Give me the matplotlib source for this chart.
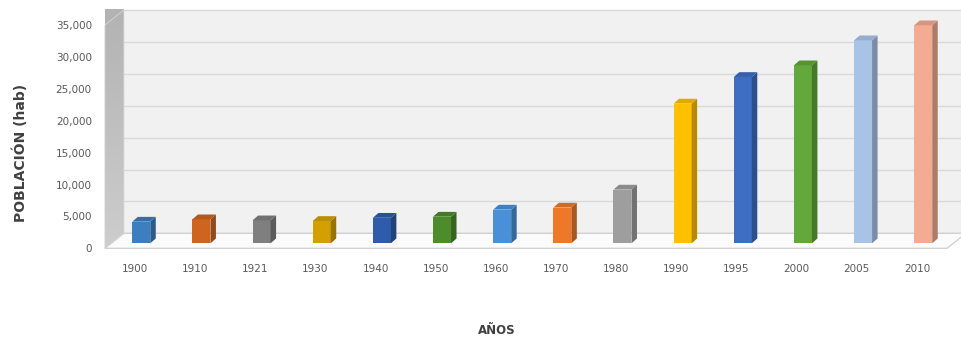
import matplotlib
matplotlib.use("Agg")
import matplotlib.pyplot as plt
from matplotlib.patches import Polygon, Rectangle
from matplotlib.transforms import Affine2D
import matplotlib.colors as mcolors
import numpy as np

# ---- data -------------------------------------------------------------
years = ["1900", "1910", "1921", "1930", "1940", "1950", "1960",
         "1970", "1980", "1990", "1995", "2000", "2005", "2010"]
population = [3390, 3760, 3600, 3500, 4000, 4170, 5280,
              5600, 8420, 21900, 26070, 27900, 31820, 34170]
bar_colors = ["#3d7ebf", "#cd6520", "#7f7f7f", "#d4a000", "#2f5caa",
              "#4c8c2b", "#4a90d9", "#ee7828", "#9e9e9e", "#ffc000",
              "#3d6ec4", "#62a83a", "#a9c3e6", "#f3ab92"]
y_ticks = [0, 5000, 10000, 15000, 20000, 25000, 30000, 35000]
y_tick_labels = ["0", "5,000", "10,000", "15,000", "20,000",
                 "25,000", "30,000", "35,000"]

# ---- figure / projection geometry (pixels) ----------------------------
W, H, DPI = 961, 341, 100
fig = plt.figure(figsize=(W / DPI, H / DPI), dpi=DPI)
fig.patch.set_facecolor("white")

L, B, AW, AH = 111.2, 97.7, 842.1, 223.3      # plane of the bar fronts
FRONT = (-6.3, -5.0)                          # front edge of floor / labels
BACK = (12.7, 10.0)                           # back wall
BAR_DEPTH = (5.5, 4.8)                        # visible depth of each column

n = len(years)
ymax = y_ticks[-1]
text_color = "#595959"

# axes holding the tick labels (front plane)
axf = fig.add_axes([(L + FRONT[0]) / W, (B + FRONT[1]) / H, AW / W, AH / H])
axf.set_xlim(-0.5, n - 0.5)
axf.set_ylim(0, ymax)
axf.patch.set_visible(False)
for s in axf.spines.values():
    s.set_visible(False)
axf.set_xticks(np.arange(n))
axf.set_xticklabels(years)
axf.set_yticks(y_ticks)
axf.set_yticklabels(y_tick_labels)
axf.tick_params(axis="x", length=0, pad=11.0, labelsize=7.5, colors=text_color)
axf.tick_params(axis="y", length=0, pad=9.4, labelsize=7.5, colors=text_color)

# main axes: bars live here
ax = fig.add_axes([L / W, B / H, AW / W, AH / H])
ax.set_xlim(-0.5, n - 0.5)
ax.set_ylim(0, ymax)
ax.axis("off")


def shifted(dx, dy):
    return ax.transData + Affine2D().translate(dx, dy)


def px2data(dx, dy):
    return dx * n / AW, dy * ymax / AH


# back wall with gridlines
back_t = shifted(*BACK)
ax.add_patch(Rectangle((-0.5, 0), n + 0.5, ymax, transform=back_t,
                       facecolor="#f1f1f1", edgecolor="none",
                       clip_on=False, zorder=0))
for t in y_ticks:
    ax.plot([-0.5, n], [t, t], transform=back_t, color="#d9d9d9",
            lw=1.0, clip_on=False, zorder=0.5)

# left side wall (vertical grey gradient)
front_t = shifted(*FRONT)
ddx, ddy = px2data(BACK[0] - FRONT[0], BACK[1] - FRONT[1])
wall = [(-0.5, 0), (-0.5, ymax), (-0.5 + ddx, ymax + ddy), (-0.5 + ddx, ddy)]
wall_patch = Polygon(wall, closed=True, transform=front_t,
                     facecolor="none", edgecolor="#d6d6d6", lw=0.6,
                     clip_on=False, zorder=1.1)
ax.add_patch(wall_patch)
grad = np.linspace(0, 1, 64).reshape(-1, 1)
wall_cmap = mcolors.LinearSegmentedColormap.from_list(
    "wall", ["#cdcdcd", "#b3b3b3"])
img = ax.imshow(grad, cmap=wall_cmap, origin="lower", aspect="auto",
                extent=(-0.5, -0.5 + ddx, 0, ymax + ddy),
                transform=front_t, zorder=1, clip_on=False)
img.set_clip_path(wall_patch)
ax.set_xlim(-0.5, n - 0.5)
ax.set_ylim(0, ymax)

# floor
floor = [(-0.5, 0), (n - 0.5, 0), (n - 0.5 + ddx, ddy), (-0.5 + ddx, ddy)]
ax.add_patch(Polygon(floor, closed=True, transform=front_t,
                     facecolor="#fbfbfb", edgecolor="#cfcfcf", lw=0.9,
                     clip_on=False, zorder=1.2))

# columns: front faces, sides and tops
bw = 18 / (AW / n)
x = np.arange(n)
ax.bar(x, population, width=bw, color=bar_colors, zorder=3,
       clip_on=False, linewidth=0)
bdx, bdy = px2data(*BAR_DEPTH)


def shade(c, f):
    r, g, b = mcolors.to_rgb(c)
    return (r * f, g * f, b * f)


for xi, v, c in zip(x, population, bar_colors):
    x0, x1 = xi - bw / 2, xi + bw / 2
    side = [(x1, 0), (x1, v), (x1 + bdx, v + bdy), (x1 + bdx, bdy)]
    top = [(x0, v), (x1, v), (x1 + bdx, v + bdy), (x0 + bdx, v + bdy)]
    ax.add_patch(Polygon(side, closed=True, facecolor=shade(c, 0.72),
                         edgecolor="none", zorder=3, clip_on=False))
    ax.add_patch(Polygon(top, closed=True, facecolor=shade(c, 0.88),
                         edgecolor="none", zorder=3, clip_on=False))

# axis titles
fig.text(20 / W, 1 - 153 / H, "POBLACIÓN (hab)", rotation=90,
         ha="center", va="center", fontsize=10, fontweight="bold",
         color="#404040")
fig.text(497 / W, 1 - 330 / H, "AÑOS", ha="center", va="center",
         fontsize=8.5, fontweight="bold", color="#404040")

fig.savefig("out.png", dpi=DPI)
